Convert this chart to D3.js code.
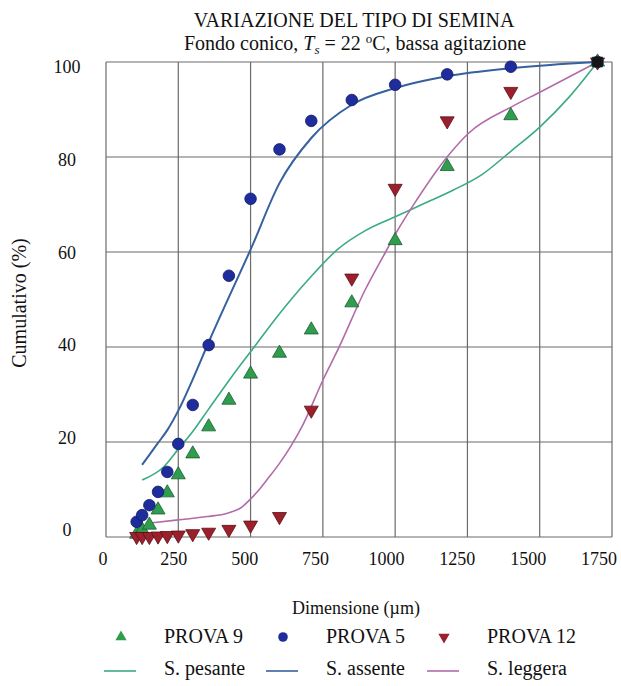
<!DOCTYPE html>
<html>
<head>
<meta charset="utf-8">
<script src="https://cdn.jsdelivr.net/npm/d3@7"></script>
<style>
	body { margin: 0; background: #fff; }
	svg text { font-family: "Liberation Serif", "Times New Roman", serif; fill: #111; }
</style>
</head>
<body>
<div id="chart"></div>
<script>
// Sieve sizes (µm) used for all three runs
const sieveSizes = [106, 125, 150, 180, 212, 250, 300, 355, 425, 500, 600, 710, 850, 1000, 1180, 1400, 1700];

// Cumulative % for each run
const prova9 = [0.6, 1.5, 2.5, 5.7, 9.3, 13.1, 17.5, 23.2, 28.8, 34.3, 38.7, 43.6, 49.3, 62.4, 78.0, 88.7, 100];
const prova5 = [3.2, 4.6, 6.7, 9.5, 13.7, 19.6, 27.8, 40.4, 55.0, 71.2, 81.6, 87.6, 92.0, 95.2, 97.4, 99.0, 100];
const prova12 = [0.1, 0.1, 0.1, 0.2, 0.3, 0.4, 0.7, 1.0, 1.6, 2.5, 4.3, 26.7, 54.5, 73.4, 87.6, 93.8, 100];

// Fitted curves, [µm, %]
const curvaPesante = [[125, 12], [200, 14.8], [250, 18.5], [300, 22.2], [350, 26.5], [400, 30.8], [450, 35], [500, 39],
	[600, 47], [700, 54.2], [800, 60.5], [900, 64.6], [1000, 67.4], [1100, 70.2], [1200, 73], [1300, 76.3],
	[1400, 81.2], [1500, 86.3], [1600, 92.5], [1700, 100]];
const curvaAssente = [[125, 15.2], [150, 17.3], [180, 19.8], [212, 22.5], [250, 26.6], [300, 33.2], [355, 41], [425, 50.5],
	[500, 60.5], [600, 74.5], [710, 84], [850, 91], [1000, 94.5], [1180, 97], [1400, 98.7], [1700, 100]];
const curvaLeggera = [[146, 2.9], [250, 3.6], [350, 4.3], [420, 5], [470, 6.3], [500, 8], [530, 10], [560, 12.3],
	[600, 15.5], [640, 19.2], [680, 23.5], [750, 33], [804, 39.7], [896, 52], [967, 60], [1003, 64], [1075, 71],
	[1181, 80.1], [1254, 85], [1404, 90.6], [1502, 93.7], [1700, 100]];

const endPoint = [[1700, 100]];

const xTicks = [0, 250, 500, 750, 1000, 1250, 1500, 1750];
const yTicks = [0, 20, 40, 60, 80, 100];

const width = 621;
const height = 686;

const colors = {
	green: "#2f9e4c",
	blue: "#1e2c9c",
	red: "#9c1f2c",
	lineGreen: "#3aab82",
	lineBlue: "#35619f",
	lineRed: "#b36aaa",
	grid: "#6b6b6b",
};

const svg = d3
	.select("#chart")
	.append("svg")
	.attr("width", width)
	.attr("height", height);

svg.append("rect").attr("width", width).attr("height", height).attr("fill", "#fff");

const x = d3.scaleLinear().domain([0, 1750]).range([106, 612]);
const y = d3.scaleLinear().domain([0, 100]).range([537, 62]);

// the scanned tick labels sit a bit off the grid
const xLabel = d3.scaleLinear().domain([0, 1750]).range([103, 599]);
const yLabel = d3.scaleLinear().domain([0, 100]).range([530, 67]);

// Grid
const grid = svg.append("g").attr("stroke", colors.grid).attr("stroke-width", 1.2);
grid.selectAll("line.v")
	.data(xTicks)
	.join("line")
	.attr("class", "v")
	.attr("x1", (d) => x(d))
	.attr("x2", (d) => x(d))
	.attr("y1", y(0))
	.attr("y2", y(100));
grid.selectAll("line.h")
	.data(yTicks)
	.join("line")
	.attr("class", "h")
	.attr("x1", x(0))
	.attr("x2", x(1750))
	.attr("y1", (d) => y(d))
	.attr("y2", (d) => y(d));

// Tick labels
svg.append("g")
	.selectAll("text")
	.data(xTicks)
	.join("text")
	.attr("x", (d) => xLabel(d))
	.attr("y", 565)
	.attr("text-anchor", "middle")
	.style("font-size", "18px")
	.text((d) => d);

svg.append("g")
	.selectAll("text")
	.data(yTicks)
	.join("text")
	.attr("x", 67)
	.attr("y", (d) => yLabel(d))
	.attr("dy", "0.35em")
	.attr("text-anchor", "middle")
	.style("font-size", "18px")
	.text((d) => d);

// Titles
svg.append("text")
	.attr("x", 354)
	.attr("y", 27)
	.attr("text-anchor", "middle")
	.style("font-size", "20px")
	.text("VARIAZIONE DEL TIPO DI SEMINA");

const sub = svg.append("text")
	.attr("x", 355)
	.attr("y", 50)
	.attr("text-anchor", "middle")
	.style("font-size", "20px");
sub.append("tspan").text("Fondo conico, ");
sub.append("tspan").style("font-style", "italic").text("T");
sub.append("tspan").style("font-style", "italic").style("font-size", "13px").attr("dy", 4).text("s");
sub.append("tspan").attr("dy", -4).text(" = 22 ");
sub.append("tspan").style("font-size", "13px").attr("dy", -7).text("o");
sub.append("tspan").attr("dy", 7).text("C, bassa agitazione");

svg.append("text")
	.attr("transform", "translate(26,303) rotate(-90)")
	.attr("text-anchor", "middle")
	.style("font-size", "20px")
	.text("Cumulativo (%)");

svg.append("text")
	.attr("x", 356)
	.attr("y", 614)
	.attr("text-anchor", "middle")
	.style("font-size", "18px")
	.text("Dimensione (µm)");

// Fitted curves
const line = d3.line()
	.x((d) => x(d[0]))
	.y((d) => y(d[1]))
	.curve(d3.curveMonotoneX);

const curves = [
	{ data: curvaPesante, color: colors.lineGreen, w: 1.6 },
	{ data: curvaLeggera, color: colors.lineRed, w: 1.6 },
	{ data: curvaAssente, color: colors.lineBlue, w: 2 },
];
svg.append("g")
	.selectAll("path")
	.data(curves)
	.join("path")
	.attr("d", (d) => line(d.data))
	.attr("fill", "none")
	.attr("stroke", (d) => d.color)
	.attr("stroke-width", (d) => d.w);

// Markers
const triangle = d3.symbol().type(d3.symbolTriangle).size(85);

svg.append("g")
	.selectAll("path")
	.data(sieveSizes.map((s, i) => [s, prova9[i]]))
	.join("path")
	.attr("d", triangle)
	.attr("transform", (d) => `translate(${x(d[0])},${y(d[1])})`)
	.attr("fill", colors.green)
	.attr("stroke", "#1d5a36")
	.attr("stroke-width", 0.8);

svg.append("g")
	.selectAll("path")
	.data(sieveSizes.map((s, i) => [s, prova12[i]]))
	.join("path")
	.attr("d", triangle)
	.attr("transform", (d) => `translate(${x(d[0])},${y(d[1])}) rotate(180)`)
	.attr("fill", colors.red)
	.attr("stroke", "#5a1018")
	.attr("stroke-width", 0.8);

svg.append("g")
	.selectAll("circle")
	.data(sieveSizes.map((s, i) => [s, prova5[i]]))
	.join("circle")
	.attr("cx", (d) => x(d[0]))
	.attr("cy", (d) => y(d[1]))
	.attr("r", 5.8)
	.attr("fill", colors.blue)
	.attr("stroke", "#101a66")
	.attr("stroke-width", 0.8);

svg.append("g")
	.selectAll("path")
	.data(endPoint)
	.join("path")
	.attr("d", d3.symbol().type(d3.symbolSquare).size(110))
	.attr("transform", (d) => `translate(${x(d[0])},${y(d[1])})`)
	.attr("fill", "#151515");

// Legend
const legendItems = [
	{ label: "PROVA 9", line: "S. pesante", color: colors.green, lineColor: colors.lineGreen, mark: "up", x: 121, tx: 164 },
	{ label: "PROVA 5", line: "S. assente", color: colors.blue, lineColor: colors.lineBlue, mark: "circle", x: 283, tx: 326 },
	{ label: "PROVA 12", line: "S. leggera", color: colors.red, lineColor: colors.lineRed, mark: "down", x: 444, tx: 487 },
];

const legend = svg.append("g");
legendItems.forEach((d) => {
	if (d.mark === "circle") {
		legend.append("circle").attr("cx", d.x).attr("cy", 637).attr("r", 4.8).attr("fill", d.color);
	} else {
		legend.append("path")
			.attr("d", d3.symbol().type(d3.symbolTriangle).size(55))
			.attr("transform", `translate(${d.x},637)${d.mark === "down" ? " rotate(180)" : ""}`)
			.attr("fill", d.color);
	}
	legend.append("text").attr("x", d.tx).attr("y", 643).style("font-size", "20px").text(d.label);
	legend.append("line")
		.attr("x1", d.x - 17)
		.attr("x2", d.x + 15)
		.attr("y1", 671)
		.attr("y2", 671)
		.attr("stroke", d.lineColor)
		.attr("stroke-width", 1.6);
	legend.append("text").attr("x", d.tx).attr("y", 675).style("font-size", "20px").text(d.line);
});
</script>
</body>
</html>
